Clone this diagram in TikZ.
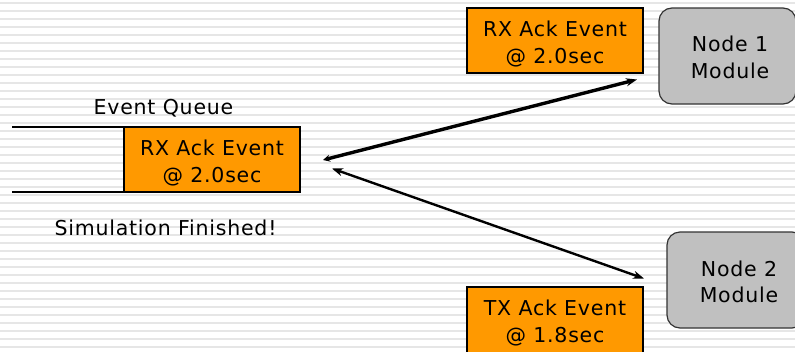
\documentclass[tikz,border=0pt]{standalone}
\usepackage{fontspec}
\setmainfont{DejaVu Sans}[LetterSpace=3.8]
\usetikzlibrary{arrows.meta}
\definecolor{evorange}{HTML}{FF9900}
\definecolor{modgray}{HTML}{C0C0C0}
\definecolor{stripe}{HTML}{E6E6E6}
\tikzset{
  txt/.style={font=\fontsize{20.5}{26.7}\selectfont, align=center, inner sep=0pt, anchor=base},
  evbox/.style={draw=black, line width=1.3pt, fill=evorange},
  modbox/.style={draw=black!80, line width=1.2pt, fill=modgray, rounded corners=13pt},
  qline/.style={line width=2.6pt, black},
  link/.style={line width=2.4pt, {Stealth[length=11pt,width=8pt]}-{Stealth[length=11pt,width=8pt]}},
}
\begin{document}
\begin{tikzpicture}[x=1pt, y=-1pt]
\useasboundingbox (0,0) rectangle (795,351);
\clip (0,0) rectangle (795,351);
% striped backdrop
\fill[white] (0,0) rectangle (795,351);
\foreach \k in {0,...,43}
  \draw[stripe, line width=2pt] (0,3.3+8*\k) -- (795,3.3+8*\k);

% event queue
\draw[qline] (12,127) -- (124,127);
\draw[qline] (12,192) -- (124,192);
\path[evbox] (124,127) rectangle (300,192);
\node[minimum width=176pt, minimum height=65pt, inner sep=0pt] (qbox) at (212,159.5) {};
\node[txt] (qtxt) at (212,182.2) {RX Ack Event\\@ 2.0sec};
\node[txt] (qlabel) at (163.5,114.5) {Event Queue};
\node[txt] (done) at (165.5,235) {Simulation Finished!};

% pending events
\path[evbox] (467,8) rectangle (643,73);
\node[minimum width=176pt, minimum height=65pt, inner sep=0pt] (rxbox) at (555,40.5) {};
\node[txt] (rxtxt) at (555,63.4) {RX Ack Event\\@ 2.0sec};
\path[evbox] (467,287) rectangle (643,360);
\node[minimum width=176pt, minimum height=73pt, inner sep=0pt] (txbox) at (555,323.5) {};
\node[txt] (txtxt) at (555,342.4) {TX Ack Event\\@ 1.8sec};

% modules
\path[modbox] (659,8) rectangle (796,104);
\node[minimum width=137pt, minimum height=96pt, inner sep=0pt] (node1) at (727.5,56) {};
\node[txt] (n1txt) at (730,78.4) {Node 1\\Module};
\path[modbox] (667,232) rectangle (805,328);
\node[minimum width=138pt, minimum height=96pt, inner sep=0pt] (node2) at (736,280) {};
\node[txt] (n2txt) at (739,302.7) {Node 2\\Module};

% message paths
\coordinate (a1s) at (323,160);
\coordinate (a1e) at (637,79.5);
\coordinate (a2s) at (332,168.5);
\coordinate (a2e) at (644,278.5);
\draw[line width=3.4pt, {Stealth[length=7pt,width=7pt]}-{Stealth[length=11pt,width=8pt]}] (a1s) -- (a1e);
\draw[link] (a2s) -- (a2e);
\end{tikzpicture}
\end{document}
